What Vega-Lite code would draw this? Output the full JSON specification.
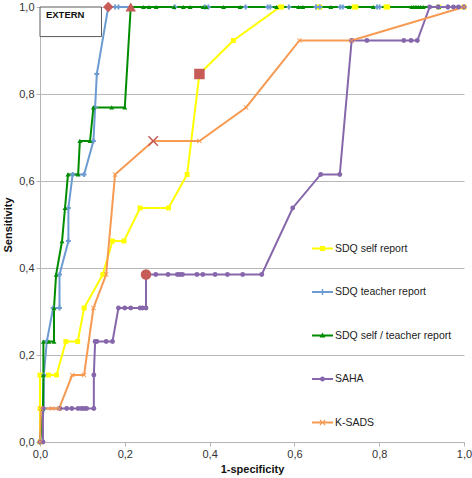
{
  "$schema": "https://vega.github.io/schema/vega-lite/v6.json",
  "width": 424,
  "height": 435,
  "autosize": "none",
  "padding": {"left": 40, "top": 7, "right": 8, "bottom": 36},
  "background": "white",
  "config": {
    "locale": {"number": {"decimal": ",", "thousands": ".", "grouping": [3], "currency": ["", " €"]}},
    "view": {"stroke": null},
    "font": "Liberation Sans",
    "axis": {
      "domainColor": "#b5b5b5",
      "tickColor": "#b5b5b5",
      "gridColor": "#b8b8b8",
      "labelColor": "#333333",
      "labelFont": "Liberation Sans",
      "labelFontSize": 11,
      "labelFlush": false,
      "titleFont": "Liberation Sans",
      "titleFontSize": 11,
      "titleFontWeight": "bold",
      "titleColor": "#111111",
      "tickSize": 4
    }
  },
  "datasets": {
    "roc": [
      {"series": "SDQ self report", "fpr": 0, "sens": 0},
      {"series": "SDQ self report", "fpr": 0, "sens": 0.077},
      {"series": "SDQ self report", "fpr": 0, "sens": 0.154},
      {"series": "SDQ self report", "fpr": 0.02, "sens": 0.154},
      {"series": "SDQ self report", "fpr": 0.039, "sens": 0.154},
      {"series": "SDQ self report", "fpr": 0.061, "sens": 0.231},
      {"series": "SDQ self report", "fpr": 0.089, "sens": 0.231},
      {"series": "SDQ self report", "fpr": 0.104, "sens": 0.308},
      {"series": "SDQ self report", "fpr": 0.148, "sens": 0.385},
      {"series": "SDQ self report", "fpr": 0.171, "sens": 0.462},
      {"series": "SDQ self report", "fpr": 0.198, "sens": 0.462},
      {"series": "SDQ self report", "fpr": 0.236, "sens": 0.538},
      {"series": "SDQ self report", "fpr": 0.303, "sens": 0.538},
      {"series": "SDQ self report", "fpr": 0.347, "sens": 0.615},
      {"series": "SDQ self report", "fpr": 0.376, "sens": 0.846},
      {"series": "SDQ self report", "fpr": 0.456, "sens": 0.923},
      {"series": "SDQ self report", "fpr": 0.566, "sens": 1},
      {"series": "SDQ self report", "fpr": 0.57, "sens": 1},
      {"series": "SDQ self report", "fpr": 0.655, "sens": 1},
      {"series": "SDQ self report", "fpr": 0.66, "sens": 1},
      {"series": "SDQ self report", "fpr": 0.741, "sens": 1},
      {"series": "SDQ self report", "fpr": 0.745, "sens": 1},
      {"series": "SDQ self report", "fpr": 0.816, "sens": 1},
      {"series": "SDQ self report", "fpr": 0.82, "sens": 1},
      {"series": "SDQ self report", "fpr": 0.94, "sens": 1},
      {"series": "SDQ self report", "fpr": 1, "sens": 1},

      {"series": "SDQ teacher report", "fpr": 0, "sens": 0},
      {"series": "SDQ teacher report", "fpr": 0.009, "sens": 0.077},
      {"series": "SDQ teacher report", "fpr": 0.009, "sens": 0.154},
      {"series": "SDQ teacher report", "fpr": 0.016, "sens": 0.231},
      {"series": "SDQ teacher report", "fpr": 0.031, "sens": 0.308},
      {"series": "SDQ teacher report", "fpr": 0.046, "sens": 0.308},
      {"series": "SDQ teacher report", "fpr": 0.046, "sens": 0.385},
      {"series": "SDQ teacher report", "fpr": 0.067, "sens": 0.462},
      {"series": "SDQ teacher report", "fpr": 0.067, "sens": 0.538},
      {"series": "SDQ teacher report", "fpr": 0.077, "sens": 0.615},
      {"series": "SDQ teacher report", "fpr": 0.104, "sens": 0.615},
      {"series": "SDQ teacher report", "fpr": 0.126, "sens": 0.692},
      {"series": "SDQ teacher report", "fpr": 0.13, "sens": 0.769},
      {"series": "SDQ teacher report", "fpr": 0.134, "sens": 0.846},
      {"series": "SDQ teacher report", "fpr": 0.161, "sens": 1},
      {"series": "SDQ teacher report", "fpr": 0.177, "sens": 1},
      {"series": "SDQ teacher report", "fpr": 0.185, "sens": 1},
      {"series": "SDQ teacher report", "fpr": 0.318, "sens": 1},
      {"series": "SDQ teacher report", "fpr": 0.389, "sens": 1},
      {"series": "SDQ teacher report", "fpr": 0.397, "sens": 1},
      {"series": "SDQ teacher report", "fpr": 0.485, "sens": 1},
      {"series": "SDQ teacher report", "fpr": 0.537, "sens": 1},
      {"series": "SDQ teacher report", "fpr": 0.543, "sens": 1},
      {"series": "SDQ teacher report", "fpr": 0.587, "sens": 1},
      {"series": "SDQ teacher report", "fpr": 0.651, "sens": 1},
      {"series": "SDQ teacher report", "fpr": 0.66, "sens": 1},
      {"series": "SDQ teacher report", "fpr": 0.708, "sens": 1},
      {"series": "SDQ teacher report", "fpr": 0.714, "sens": 1},
      {"series": "SDQ teacher report", "fpr": 0.795, "sens": 1},
      {"series": "SDQ teacher report", "fpr": 0.801, "sens": 1},
      {"series": "SDQ teacher report", "fpr": 0.94, "sens": 1},
      {"series": "SDQ teacher report", "fpr": 0.962, "sens": 1},
      {"series": "SDQ teacher report", "fpr": 1, "sens": 1},

      {"series": "SDQ self / teacher report", "fpr": 0, "sens": 0},
      {"series": "SDQ self / teacher report", "fpr": 0.007, "sens": 0.077},
      {"series": "SDQ self / teacher report", "fpr": 0.008, "sens": 0.154},
      {"series": "SDQ self / teacher report", "fpr": 0.008, "sens": 0.231},
      {"series": "SDQ self / teacher report", "fpr": 0.021, "sens": 0.231},
      {"series": "SDQ self / teacher report", "fpr": 0.033, "sens": 0.231},
      {"series": "SDQ self / teacher report", "fpr": 0.033, "sens": 0.308},
      {"series": "SDQ self / teacher report", "fpr": 0.038, "sens": 0.385},
      {"series": "SDQ self / teacher report", "fpr": 0.052, "sens": 0.462},
      {"series": "SDQ self / teacher report", "fpr": 0.059, "sens": 0.538},
      {"series": "SDQ self / teacher report", "fpr": 0.066, "sens": 0.615},
      {"series": "SDQ self / teacher report", "fpr": 0.09, "sens": 0.615},
      {"series": "SDQ self / teacher report", "fpr": 0.094, "sens": 0.692},
      {"series": "SDQ self / teacher report", "fpr": 0.118, "sens": 0.692},
      {"series": "SDQ self / teacher report", "fpr": 0.126, "sens": 0.769},
      {"series": "SDQ self / teacher report", "fpr": 0.169, "sens": 0.769},
      {"series": "SDQ self / teacher report", "fpr": 0.2, "sens": 0.769},
      {"series": "SDQ self / teacher report", "fpr": 0.214, "sens": 1},
      {"series": "SDQ self / teacher report", "fpr": 0.244, "sens": 1},
      {"series": "SDQ self / teacher report", "fpr": 0.257, "sens": 1},
      {"series": "SDQ self / teacher report", "fpr": 0.274, "sens": 1},
      {"series": "SDQ self / teacher report", "fpr": 0.316, "sens": 1},
      {"series": "SDQ self / teacher report", "fpr": 0.338, "sens": 1},
      {"series": "SDQ self / teacher report", "fpr": 0.354, "sens": 1},
      {"series": "SDQ self / teacher report", "fpr": 0.385, "sens": 1},
      {"series": "SDQ self / teacher report", "fpr": 0.392, "sens": 1},
      {"series": "SDQ self / teacher report", "fpr": 0.433, "sens": 1},
      {"series": "SDQ self / teacher report", "fpr": 0.472, "sens": 1},
      {"series": "SDQ self / teacher report", "fpr": 0.558, "sens": 1},
      {"series": "SDQ self / teacher report", "fpr": 0.61, "sens": 1},
      {"series": "SDQ self / teacher report", "fpr": 0.62, "sens": 1},
      {"series": "SDQ self / teacher report", "fpr": 0.686, "sens": 1},
      {"series": "SDQ self / teacher report", "fpr": 0.729, "sens": 1},
      {"series": "SDQ self / teacher report", "fpr": 0.786, "sens": 1},
      {"series": "SDQ self / teacher report", "fpr": 0.877, "sens": 1},
      {"series": "SDQ self / teacher report", "fpr": 0.881, "sens": 1},
      {"series": "SDQ self / teacher report", "fpr": 0.885, "sens": 1},
      {"series": "SDQ self / teacher report", "fpr": 0.889, "sens": 1},
      {"series": "SDQ self / teacher report", "fpr": 0.893, "sens": 1},
      {"series": "SDQ self / teacher report", "fpr": 0.898, "sens": 1},
      {"series": "SDQ self / teacher report", "fpr": 0.904, "sens": 1},
      {"series": "SDQ self / teacher report", "fpr": 0.94, "sens": 1},
      {"series": "SDQ self / teacher report", "fpr": 1, "sens": 1},

      {"series": "SAHA", "fpr": 0, "sens": 0},
      {"series": "SAHA", "fpr": 0.007, "sens": 0},
      {"series": "SAHA", "fpr": 0.007, "sens": 0.077},
      {"series": "SAHA", "fpr": 0.047, "sens": 0.077},
      {"series": "SAHA", "fpr": 0.063, "sens": 0.077},
      {"series": "SAHA", "fpr": 0.075, "sens": 0.077},
      {"series": "SAHA", "fpr": 0.09, "sens": 0.077},
      {"series": "SAHA", "fpr": 0.098, "sens": 0.077},
      {"series": "SAHA", "fpr": 0.104, "sens": 0.077},
      {"series": "SAHA", "fpr": 0.11, "sens": 0.077},
      {"series": "SAHA", "fpr": 0.127, "sens": 0.077},
      {"series": "SAHA", "fpr": 0.127, "sens": 0.154},
      {"series": "SAHA", "fpr": 0.13, "sens": 0.231},
      {"series": "SAHA", "fpr": 0.134, "sens": 0.231},
      {"series": "SAHA", "fpr": 0.156, "sens": 0.231},
      {"series": "SAHA", "fpr": 0.171, "sens": 0.231},
      {"series": "SAHA", "fpr": 0.185, "sens": 0.308},
      {"series": "SAHA", "fpr": 0.2, "sens": 0.308},
      {"series": "SAHA", "fpr": 0.214, "sens": 0.308},
      {"series": "SAHA", "fpr": 0.236, "sens": 0.308},
      {"series": "SAHA", "fpr": 0.242, "sens": 0.308},
      {"series": "SAHA", "fpr": 0.25, "sens": 0.308},
      {"series": "SAHA", "fpr": 0.25, "sens": 0.385},
      {"series": "SAHA", "fpr": 0.273, "sens": 0.385},
      {"series": "SAHA", "fpr": 0.302, "sens": 0.385},
      {"series": "SAHA", "fpr": 0.324, "sens": 0.385},
      {"series": "SAHA", "fpr": 0.33, "sens": 0.385},
      {"series": "SAHA", "fpr": 0.336, "sens": 0.385},
      {"series": "SAHA", "fpr": 0.37, "sens": 0.385},
      {"series": "SAHA", "fpr": 0.384, "sens": 0.385},
      {"series": "SAHA", "fpr": 0.413, "sens": 0.385},
      {"series": "SAHA", "fpr": 0.442, "sens": 0.385},
      {"series": "SAHA", "fpr": 0.478, "sens": 0.385},
      {"series": "SAHA", "fpr": 0.523, "sens": 0.385},
      {"series": "SAHA", "fpr": 0.596, "sens": 0.538},
      {"series": "SAHA", "fpr": 0.662, "sens": 0.615},
      {"series": "SAHA", "fpr": 0.707, "sens": 0.615},
      {"series": "SAHA", "fpr": 0.735, "sens": 0.923},
      {"series": "SAHA", "fpr": 0.771, "sens": 0.923},
      {"series": "SAHA", "fpr": 0.858, "sens": 0.923},
      {"series": "SAHA", "fpr": 0.875, "sens": 0.923},
      {"series": "SAHA", "fpr": 0.89, "sens": 0.923},
      {"series": "SAHA", "fpr": 0.919, "sens": 1},
      {"series": "SAHA", "fpr": 0.939, "sens": 1},
      {"series": "SAHA", "fpr": 0.962, "sens": 1},
      {"series": "SAHA", "fpr": 0.975, "sens": 1},
      {"series": "SAHA", "fpr": 0.987, "sens": 1},
      {"series": "SAHA", "fpr": 1, "sens": 1},

      {"series": "K-SADS", "fpr": 0, "sens": 0},
      {"series": "K-SADS", "fpr": 0.002, "sens": 0.077},
      {"series": "K-SADS", "fpr": 0.029, "sens": 0.077},
      {"series": "K-SADS", "fpr": 0.045, "sens": 0.077},
      {"series": "K-SADS", "fpr": 0.076, "sens": 0.154},
      {"series": "K-SADS", "fpr": 0.104, "sens": 0.154},
      {"series": "K-SADS", "fpr": 0.126, "sens": 0.308},
      {"series": "K-SADS", "fpr": 0.156, "sens": 0.385},
      {"series": "K-SADS", "fpr": 0.177, "sens": 0.615},
      {"series": "K-SADS", "fpr": 0.267, "sens": 0.692},
      {"series": "K-SADS", "fpr": 0.376, "sens": 0.692},
      {"series": "K-SADS", "fpr": 0.486, "sens": 0.769},
      {"series": "K-SADS", "fpr": 0.612, "sens": 0.923},
      {"series": "K-SADS", "fpr": 0.735, "sens": 0.923},
      {"series": "K-SADS", "fpr": 1, "sens": 1}
    ],
    "cut": [
      {"series": "SDQ self report", "fpr": 0.376, "sens": 0.846},
      {"series": "SDQ teacher report", "fpr": 0.161, "sens": 1},
      {"series": "SDQ self / teacher report", "fpr": 0.214, "sens": 1},
      {"series": "SAHA", "fpr": 0.25, "sens": 0.385},
      {"series": "K-SADS", "fpr": 0.267, "sens": 0.692}
    ],
    "leg": [
      {"series": "SDQ self report"},
      {"series": "SDQ teacher report"},
      {"series": "SDQ self / teacher report"},
      {"series": "SAHA"},
      {"series": "K-SADS"}
    ]
  },
  "layer": [
    {
      "data": {"values": [{}]},
      "mark": {"type": "rect", "fill": "white", "stroke": "#5a5a5a", "strokeWidth": 1},
      "encoding": {
        "x": {"datum": 0, "type": "quantitative"},
        "x2": {"datum": 0.145},
        "y": {"datum": 0.932, "type": "quantitative"},
        "y2": {"datum": 1}
      }
    },
    {
      "data": {"values": [{}]},
      "mark": {"type": "text", "text": "EXTERN", "font": "Liberation Sans", "fontWeight": "bold", "fontSize": 9.5, "align": "left", "baseline": "middle", "color": "#111111"},
      "encoding": {
        "x": {"datum": 0.014, "type": "quantitative"},
        "y": {"datum": 0.982, "type": "quantitative"}
      }
    },
    {
      "data": {"name": "roc"},
      "mark": {"type": "line", "strokeWidth": 2},
      "encoding": {
        "x": {
          "field": "fpr", "type": "quantitative",
          "scale": {"domain": [0, 1], "nice": false, "zero": false},
          "axis": {"title": "1-specificity", "values": [0, 0.2, 0.4, 0.6, 0.8, 1], "format": ".1f", "grid": false, "labelPadding": 2, "titlePadding": 4}
        },
        "y": {
          "field": "sens", "type": "quantitative",
          "scale": {"domain": [0, 1], "nice": false, "zero": false},
          "axis": {"title": "Sensitivity", "values": [0, 0.2, 0.4, 0.6, 0.8, 1], "format": ".1f", "grid": true, "labelPadding": 2, "titlePadding": 5}
        },
        "color": {
          "field": "series", "type": "nominal",
          "scale": {
            "domain": ["SDQ self report", "SDQ teacher report", "SDQ self / teacher report", "SAHA", "K-SADS"],
            "range": ["#ffff00", "#6c9bd2", "#008c00", "#8667ab", "#f79a52"]
          },
          "legend": null
        },
        "strokeWidth": {
          "field": "series", "type": "nominal",
          "scale": {
            "domain": ["SDQ self report", "SDQ teacher report", "SDQ self / teacher report", "SAHA", "K-SADS"],
            "range": [2, 2, 2.6, 2, 2]
          },
          "legend": null
        },
        "order": {"value": null}
      }
    },
    {
      "data": {"name": "roc"},
      "mark": {"type": "point", "filled": true, "opacity": 1},
      "encoding": {
        "x": {"field": "fpr", "type": "quantitative"},
        "y": {"field": "sens", "type": "quantitative"},
        "color": {"field": "series", "type": "nominal", "legend": null},
        "shape": {
          "field": "series", "type": "nominal",
          "scale": {
            "domain": ["SDQ self report", "SDQ teacher report", "SDQ self / teacher report", "SAHA", "K-SADS"],
            "range": ["square", "cross", "triangle-up", "circle", "M-1,-0.75L-0.75,-1L0,-0.25L0.75,-1L1,-0.75L0.25,0L1,0.75L0.75,1L0,0.25L-0.75,1L-1,0.75L-0.25,0Z"]
          },
          "legend": null
        },
        "size": {
          "field": "series", "type": "nominal",
          "scale": {
            "domain": ["SDQ self report", "SDQ teacher report", "SDQ self / teacher report", "SAHA", "K-SADS"],
            "range": [24, 24, 30, 28, 40]
          },
          "legend": null
        }
      }
    },
    {
      "data": {"name": "cut"},
      "mark": {"type": "point", "filled": true, "opacity": 1, "color": "#c65b57"},
      "encoding": {
        "x": {"field": "fpr", "type": "quantitative"},
        "y": {"field": "sens", "type": "quantitative"},
        "shape": {
          "field": "series", "type": "nominal",
          "scale": {
            "domain": ["SDQ self report", "SDQ teacher report", "SDQ self / teacher report", "SAHA", "K-SADS"],
            "range": ["square", "diamond", "triangle-up", "circle", "M-1,-0.8L-0.8,-1L0,-0.2L0.8,-1L1,-0.8L0.2,0L1,0.8L0.8,1L0,0.2L-0.8,1L-1,0.8L-0.2,0Z"]
          },
          "legend": null
        },
        "size": {
          "field": "series", "type": "nominal",
          "scale": {
            "domain": ["SDQ self report", "SDQ teacher report", "SDQ self / teacher report", "SAHA", "K-SADS"],
            "range": [110, 110, 130, 110, 160]
          },
          "legend": null
        }
      }
    },
    {
      "data": {"name": "leg"},
      "mark": {"type": "point", "filled": true, "opacity": 0},
      "encoding": {
        "x": {"datum": 0, "type": "quantitative"},
        "y": {"datum": 0, "type": "quantitative"},
        "color": {
          "field": "series", "type": "nominal",
          "legend": {"title": null, "orient": "none", "legendX": 272, "legendY": 231, "symbolSize": 441, "labelFontSize": 10.5, "labelFont": "Liberation Sans", "labelColor": "#222222", "rowPadding": 27.5, "labelOffset": 2, "padding": 0, "symbolOpacity": 1, "symbolStrokeWidth": 0}
        },
        "shape": {
          "field": "series", "type": "nominal",
          "scale": {
            "domain": ["SDQ self report", "SDQ teacher report", "SDQ self / teacher report", "SAHA", "K-SADS"],
            "range": [
              "M-1,-0.1L1,-0.1L1,0.1L-1,0.1ZM-0.24,-0.24L0.24,-0.24L0.24,0.24L-0.24,0.24Z",
              "M-1,-0.1L1,-0.1L1,0.1L-1,0.1ZM-0.07,-0.28L0.07,-0.28L0.07,0.28L-0.07,0.28Z",
              "M-1,-0.1L1,-0.1L1,0.1L-1,0.1ZM0,-0.28L0.28,0.2L-0.28,0.2Z",
              "M-1,-0.1L1,-0.1L1,0.1L-1,0.1ZM-0.24,0A0.24,0.24 0 1,1 0.24,0A0.24,0.24 0 1,1 -0.24,0Z",
              "M-1,-0.1L1,-0.1L1,0.1L-1,0.1ZM-0.28,-0.2L-0.2,-0.28L0,-0.08L0.2,-0.28L0.28,-0.2L0.08,0L0.28,0.2L0.2,0.28L0,0.08L-0.2,0.28L-0.28,0.2L-0.08,0Z"
            ]
          },
          "legend": {"title": null, "orient": "none", "legendX": 272, "legendY": 231, "symbolSize": 441, "labelFontSize": 10.5, "labelFont": "Liberation Sans", "labelColor": "#222222", "rowPadding": 27.5, "labelOffset": 2, "padding": 0, "symbolOpacity": 1, "symbolStrokeWidth": 0}
        }
      }
    }
  ],
  "resolve": {"scale": {"shape": "independent", "size": "independent"}, "legend": {"color": "independent", "shape": "independent"}}
}
